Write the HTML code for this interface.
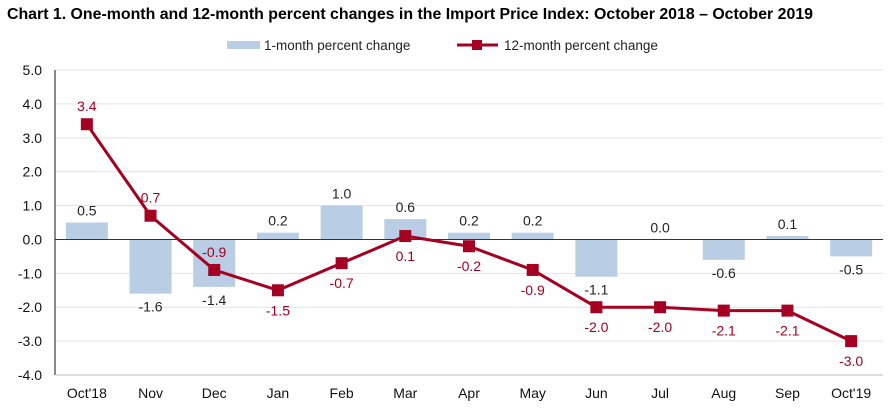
<!DOCTYPE html>
<html><head><meta charset="utf-8"><style>
body{margin:0;background:#fff;font-family:"Liberation Sans",Arial,sans-serif}
svg text{font-family:"Liberation Sans",Arial,sans-serif}
</style></head><body>
<svg id="chart" width="892" height="415" xmlns="http://www.w3.org/2000/svg">
<text x="7" y="19" font-size="15.8" font-weight="bold" fill="#000" textLength="806" lengthAdjust="spacingAndGlyphs">Chart 1. One-month and 12-month percent changes in the Import Price Index: October 2018 – October 2019</text>
<g>
<rect x="227" y="41" width="33" height="8" fill="#b9cde5"/>
<text x="264" y="50" font-size="13.5" fill="#222">1-month percent change</text>
<line x1="457" y1="45" x2="498" y2="45" stroke="#a50021" stroke-width="3"/>
<rect x="472" y="40" width="10" height="10" fill="#a50021"/>
<text x="504" y="50" font-size="13.5" fill="#222">12-month percent change</text>
</g>
<g id="grid"></g><g id="bars"></g><g id="line"></g><g id="labels"></g>
</svg>
<script>
const categories=["Oct'18","Nov","Dec","Jan","Feb","Mar","Apr","May","Jun","Jul","Aug","Sep","Oct'19"];
const oneMonth=[0.5,-1.6,-1.4,0.2,1.0,0.6,0.2,0.2,-1.1,0.0,-0.6,0.1,-0.5];
const twelveMonth=[3.4,0.7,-0.9,-1.5,-0.7,0.1,-0.2,-0.9,-2.0,-2.0,-2.1,-2.1,-3.0];
const yTicks=[5,4,3,2,1,0,-1,-2,-3,-4];
const NS="http://www.w3.org/2000/svg";
const L=55,R=883,T=70,B=375,yMax=5,yMin=-4;
const bw=(R-L)/categories.length;
const y=v=>T+(yMax-v)/(yMax-yMin)*(B-T);
const x=i=>L+bw*(i+0.5);
function mk(tag,parent,attrs){const e=document.createElementNS(NS,tag);for(const k in attrs)e.setAttribute(k,attrs[k]);document.getElementById(parent).appendChild(e);return e;}
yTicks.forEach(t=>{
  const g=mk('line','grid',{x1:L,x2:R,y1:y(t),y2:y(t),stroke:'#e3e3e3','stroke-width':1});
  
  
  const tx=mk('text','grid',{x:42,y:y(t)+5,'font-size':14,'text-anchor':'end',fill:'#111'});
  tx.textContent=t.toFixed(1);
  
  
});
const ax=mk('line','grid',{x1:L,x2:L,y1:T,y2:B,stroke:'#888','stroke-width':2});


const bx=mk('line','grid',{x1:L,x2:R,y1:B,y2:B,stroke:'#bbb','stroke-width':1});


categories.forEach((c,i)=>{
  const t=mk('text','labels',{x:x(i),y:398,'font-size':14,'text-anchor':'middle',fill:'#111'});
  t.textContent=c;
  
  
  const v=oneMonth[i];
  const r=mk('rect','bars',{x:x(i)-21,width:42,y:Math.min(y(v),y(0)),height:Math.abs(y(v)-y(0)),fill:'#b9cde5'});
  
  
  const bl=mk('text','labels',{x:x(i),y:v>=0?y(v)-7:y(v)+18,'font-size':14,'text-anchor':'middle',fill:'#222'});
  bl.textContent=v.toFixed(1);
  
  
});
const z=mk('line','bars',{x1:L,x2:R,y1:y(0),y2:y(0),stroke:'#333','stroke-width':1});


const pl=mk('polyline','line',{points:twelveMonth.map((v,i)=>x(i)+','+y(v)).join(' '),fill:'none',stroke:'#a50021','stroke-width':3});


twelveMonth.forEach((v,i)=>{
  const m=mk('rect','line',{x:x(i)-6,y:y(v)-6,width:12,height:12,fill:'#a50021'});
  
  
  const above=(i===0||i===1||i===2);
  const t=mk('text','labels',{x:x(i),y:above?y(v)-13:y(v)+25,'font-size':14,'text-anchor':'middle',fill:'#a50021'});
  t.textContent=v.toFixed(1);
  
  
});
</script>
</body></html>
